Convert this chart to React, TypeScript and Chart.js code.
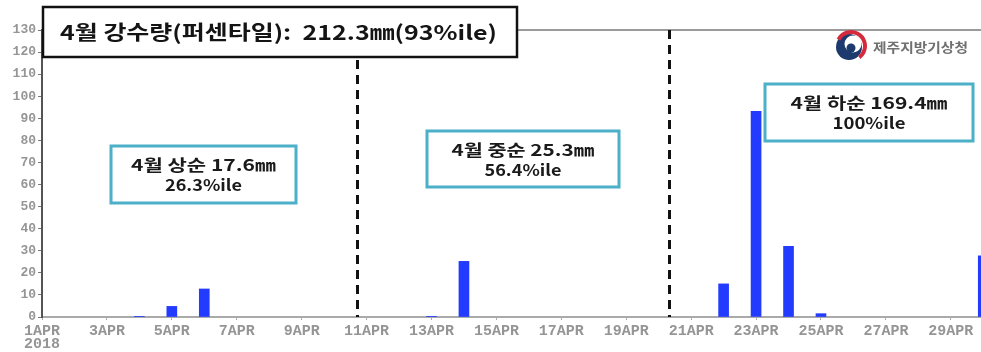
import React, { useEffect, useRef } from "react";
import { Chart, registerables } from "chart.js";

Chart.register(...registerables);

// ---- data ----
const rainDays = [4, 5, 6, 13, 14, 22, 23, 24, 25, 30];
const rainMm = [0.1, 4.8, 12.7, 0.1, 25.2, 15.0, 93.2, 32.0, 1.5, 27.7];
const xTickDays = [1, 3, 5, 7, 9, 11, 13, 15, 17, 19, 21, 23, 25, 27, 29];
const monthTag = "APR";
const yearLabel = "2018";
const dekadSplits = [10.72, 20.32];
const titleText = "4월 강수량(퍼센타일):  212.3㎜(93%ile)";
const dekadTexts = [
  ["4월 상순 17.6㎜", "26.3%ile"],
  ["4월 중순 25.3㎜", "56.4%ile"],
  ["4월 하순 169.4㎜", "100%ile"],
];
const agencyName = "제주지방기상청";

const KFONT = '"Noto Sans CJK KR", "Noto Sans", sans-serif';
const TFONT = '"Liberation Mono", "DejaVu Sans Mono", monospace';

function fitText(ctx: any, text: string, x: number, y: number, font: string, width: number, align: "left" | "center") {
  ctx.save();
  ctx.font = font;
  ctx.textBaseline = "middle";
  ctx.textAlign = "left";
  const w = ctx.measureText(text).width;
  const sx = width / w;
  const left = align === "center" ? x - width / 2 : x;
  ctx.translate(left, y);
  ctx.scale(sx, 1);
  ctx.fillText(text, 0, 0);
  ctx.restore();
}

const overlayPlugin = {
  id: "overlay",
  beforeDatasetsDraw(chart: any) {
    const { ctx, chartArea, scales } = chart;
    ctx.save();
    ctx.strokeStyle = "#9a9a9a";
    ctx.lineWidth = 2;
    ctx.beginPath();
    ctx.moveTo(chartArea.left, chartArea.top);
    ctx.lineTo(chartArea.right, chartArea.top);
    ctx.stroke();
    ctx.strokeStyle = "#111";
    ctx.lineWidth = 3;
    ctx.setLineDash([9, 6]);
    dekadSplits.forEach((d) => {
      const x = Math.round(scales.x.getPixelForValue(d)) + 0.5;
      ctx.beginPath();
      ctx.moveTo(x, chartArea.top);
      ctx.lineTo(x, chartArea.bottom);
      ctx.stroke();
    });
    ctx.restore();
  },
  afterDraw(chart: any) {
    const { ctx } = chart;
    ctx.save();
    // title box
    ctx.fillStyle = "#fff";
    ctx.fillRect(43, 7, 474, 50);
    ctx.strokeStyle = "#111";
    ctx.lineWidth = 2.5;
    ctx.strokeRect(43, 7, 474, 50);
    ctx.fillStyle = "#141414";
    fitText(ctx, titleText, 60, 32, `bold 20px ${KFONT}`, 437, "left");

    // dekad boxes
    const boxes = [
      { x: 111, y: 146, w: 185, h: 57, w1: 145, w2: 77 },
      { x: 427, y: 131, w: 192, h: 56, w1: 143, w2: 77 },
      { x: 765, y: 84, w: 208, h: 57, w1: 157, w2: 73 },
    ];
    boxes.forEach((b, i) => {
      ctx.fillStyle = "#fff";
      ctx.fillRect(b.x, b.y, b.w, b.h);
      ctx.strokeStyle = "#4bb0c8";
      ctx.lineWidth = 3;
      ctx.strokeRect(b.x, b.y, b.w, b.h);
      ctx.fillStyle = "#1a1a1a";
      const cx = b.x + b.w / 2;
      fitText(ctx, dekadTexts[i][0], cx, b.y + 19, `bold 16px ${KFONT}`, b.w1, "center");
      fitText(ctx, dekadTexts[i][1], cx, b.y + 39, `bold 16px ${KFONT}`, b.w2, "center");
    });

    // logo
    const lx = 850, ly = 46;
    ctx.fillStyle = "#1d3a6e";
    ctx.beginPath();
    ctx.arc(lx - 1, ly + 1, 13, 0, Math.PI * 2);
    ctx.fill();
    ctx.fillStyle = "#fff";
    ctx.beginPath();
    ctx.arc(lx + 3, ly - 2, 8.5, 0, Math.PI * 2);
    ctx.fill();
    ctx.strokeStyle = "#d42a3c";
    ctx.lineWidth = 4;
    ctx.beginPath();
    ctx.arc(lx + 1, ly, 14, -Math.PI * 0.85, Math.PI * 0.3);
    ctx.stroke();
    ctx.fillStyle = "#1d3a6e";
    ctx.beginPath();
    ctx.arc(lx + 1, ly + 2, 4.5, 0, Math.PI * 2);
    ctx.fill();

    ctx.fillStyle = "#707070";
    fitText(ctx, agencyName, 873, 47, `bold 13px ${KFONT}`, 95, "left");
    ctx.restore();
  },
};

export default function App() {
  const ref = useRef<HTMLCanvasElement | null>(null);
  useEffect(() => {
    if (!ref.current) return;
    const chart = new Chart(ref.current, {
      type: "bar",
      data: {
        datasets: [
          {
            data: rainDays.map((d, i) => ({ x: d, y: rainMm[i] })),
            backgroundColor: "rgb(35,58,255)",
            barThickness: 10,
          } as any,
        ],
      },
      options: {
        animation: false,
        responsive: false,
        layout: { padding: { top: 30, left: 0, right: 0, bottom: 0 } },
        plugins: { legend: { display: false }, tooltip: { enabled: false } },
        scales: {
          x: {
            type: "linear",
            offset: false,
            min: 1,
            max: 29.93,
            afterBuildTicks: (s: any) => {
              s.ticks = xTickDays.map((v) => ({ value: v }));
            },
            afterFit: (s: any) => {
              s.height = 35;
            },
            ticks: {
              autoSkip: false,
              maxRotation: 0,
              padding: 5,
              color: "#959595",
              font: { family: TFONT, size: 15, weight: "bold", lineHeight: 0.85 },
              callback: (v: any) =>
                Number(v) === 1 ? [`${v}${monthTag}`, yearLabel] : `${v}${monthTag}`,
            },
            grid: { offset: false, drawOnChartArea: false, drawTicks: true, tickLength: 3, color: "#aaa" },
            border: { color: "#aaa", width: 2 },
          },
          y: {
            min: 0,
            max: 130,
            afterFit: (s: any) => {
              s.width = 42;
            },
            ticks: {
              stepSize: 10,
              padding: 2,
              color: "#959595",
              font: { family: TFONT, size: 13, weight: "bold" },
            },
            grid: { drawOnChartArea: false, drawTicks: true, tickLength: 4, color: "#777" },
            border: { color: "#555", width: 2 },
          },
        },
      },
      plugins: [overlayPlugin],
    } as any);
    return () => chart.destroy();
  }, []);
  return (
    <div style={{ position: "fixed", left: 0, top: 0, width: 981, height: 352, background: "#fff" }}>
      <canvas ref={ref} width={981} height={352} />
    </div>
  );
}
